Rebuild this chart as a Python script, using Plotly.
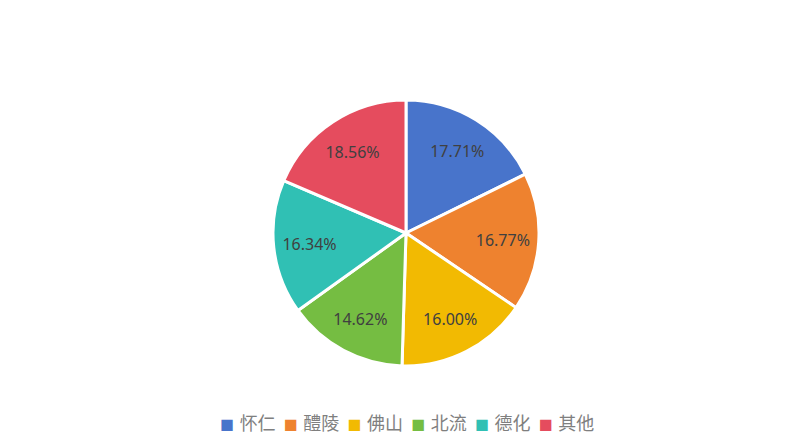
import plotly.graph_objects as go

categories = ["怀仁", "醴陵", "佛山", "北流", "德化", "其他"]
shares = [17.71, 16.77, 16.00, 14.62, 16.34, 18.56]
colors = ["#4874CB", "#EE822F", "#F2BA02", "#75BD42", "#30C0B4", "#E54C5E"]

W, H = 811, 445
cx, cy, r = 398, 225, 133
dom = dict(x=[(cx - r) / W, (cx + r) / W], y=[(H - cy - r) / H, (H - cy + r) / H])

fig = go.Figure()
fig.add_trace(go.Pie(
    labels=categories,
    values=shares,
    sort=False,
    direction="clockwise",
    rotation=0,
    marker=dict(colors=colors, line=dict(color="white", width=3)),
    textinfo="none",
    hoverinfo="label+percent",
    domain=dom,
    showlegend=False,
))
# transparent ring carrying the percentage labels further out
fig.add_trace(go.Pie(
    labels=categories,
    values=shares,
    sort=False,
    direction="clockwise",
    rotation=0,
    hole=0.46,
    marker=dict(colors=["rgba(0,0,0,0)"] * len(categories), line=dict(width=0)),
    texttemplate="%{percent:.2%}",
    textposition="inside",
    insidetextorientation="horizontal",
    textfont=dict(family="Noto Sans, sans-serif", size=16, color="#404040"),
    hoverinfo="skip",
    domain=dom,
    showlegend=False,
))

sq = '<span style="color:{c};font-size:14px">■</span>\u2005\u200a{t}'
legend_text = "\u2005\u2009".join(sq.format(c=c, t=t) for c, t in zip(colors, categories))

fig.update_layout(
    width=W, height=H,
    margin=dict(l=0, r=0, t=0, b=0, autoexpand=False),
    paper_bgcolor="white",
    plot_bgcolor="white",
    showlegend=False,
    annotations=[dict(
        text=legend_text, x=(399 / W), y=(H - 414) / H, xref="paper", yref="paper",
        xanchor="center", yanchor="middle", showarrow=False,
        font=dict(family="Noto Sans CJK SC, sans-serif", size=18, color="#7f7f7f"),
    )],
)

fig.write_html("out.html")
